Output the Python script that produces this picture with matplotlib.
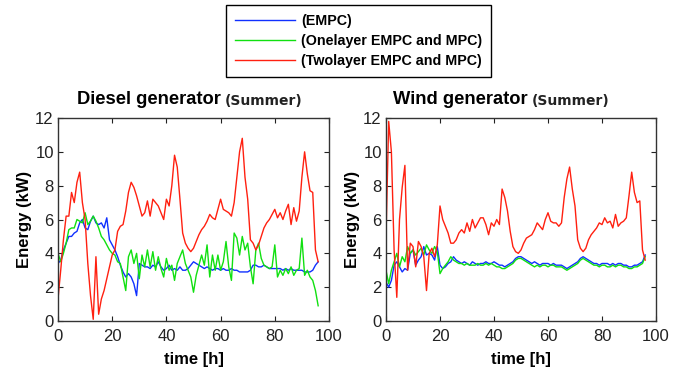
import matplotlib
matplotlib.use("Agg")
import matplotlib.pyplot as plt
import numpy as np

# hourly samples, 0..96 h
hours = list(range(97))

diesel_empc = [3.4, 3.6, 4.2, 4.6, 5.0, 5.0, 5.2, 5.3, 5.8, 6.0, 5.5, 5.4, 5.9, 6.2, 5.8, 5.7,
               5.8, 5.5, 6.1, 4.8, 4.5, 4.2, 3.8, 3.3, 2.9, 2.6, 2.8, 2.6, 2.2, 1.5, 3.4, 3.3,
               3.2, 3.2, 3.1, 3.3, 3.2, 3.5, 3.2, 3.0, 3.1, 3.3, 3.0, 3.1, 3.0, 3.2, 3.0, 3.0,
               3.1, 3.3, 3.5, 3.4, 3.3, 3.2, 3.1, 3.2, 3.1, 3.0, 3.1, 3.1, 3.0, 3.1, 3.0, 3.0,
               3.1, 3.0, 3.0, 2.9, 2.9, 2.9, 2.9, 3.0, 3.3, 3.3, 3.2, 3.2, 3.3, 3.2, 3.1, 3.1,
               3.1, 3.1, 3.1, 3.0, 3.1, 3.0, 3.1, 3.0, 3.0, 3.0, 3.0, 2.9, 2.9, 2.9, 3.0, 3.3,
               3.5]
diesel_one = [4.0, 3.5, 4.0, 4.6, 5.4, 5.5, 5.5, 6.0, 5.9, 5.8, 6.4, 5.7, 5.9, 6.2, 5.9, 5.5,
              5.0, 4.8, 4.5, 4.2, 4.0, 3.9, 3.5, 3.4, 2.6, 1.8, 3.8, 4.2, 3.4, 4.0, 2.5, 3.9,
              3.2, 4.2, 3.2, 4.1, 3.0, 3.8, 3.1, 2.6, 3.7, 3.0, 3.3, 2.4, 3.4, 3.8, 4.2, 3.4,
              3.0, 2.6, 1.7, 2.7, 3.3, 3.9, 3.3, 4.5, 2.6, 3.9, 3.0, 3.9, 3.0, 3.5, 4.7, 3.2,
              2.4, 5.2, 4.9, 3.9, 5.0, 4.2, 4.6, 3.2, 2.2, 4.2, 4.6, 3.7, 3.3, 3.2, 3.1, 3.2,
              4.5, 2.6, 3.0, 2.7, 3.1, 2.8, 3.2, 2.7, 3.0, 3.1, 4.9, 2.7, 3.0, 2.6, 2.4, 1.8,
              0.9]
diesel_two = [1.3, 3.0, 4.8, 6.2, 6.2, 7.6, 7.0, 8.2, 8.8, 7.0, 6.0, 3.4, 1.5, 0.1, 3.8, 0.4,
              1.3, 1.8, 2.5, 3.2, 3.9, 4.2, 5.3, 5.6, 5.7, 6.5, 7.6, 8.2, 7.9, 7.4, 6.8, 6.2,
              6.4, 7.1, 6.2, 7.2, 7.0, 6.8, 6.4, 6.0, 7.2, 6.8, 8.0, 9.8, 9.1, 7.2, 5.2, 4.6,
              4.3, 4.1, 4.3, 4.7, 5.1, 5.4, 5.6, 5.9, 6.3, 6.1, 6.0, 6.6, 7.2, 6.6, 6.5, 6.4,
              6.2, 7.0, 8.5, 10.0, 10.8, 8.5, 7.2, 4.8, 4.6, 4.2, 4.5, 5.0, 5.5, 5.8, 6.0, 6.3,
              6.6, 6.1, 6.4, 6.0, 6.5, 6.9, 5.7, 6.7, 5.9, 6.5, 8.5, 10.0, 8.7, 7.7, 7.6, 4.2,
              3.5]

wind_empc = [2.3, 2.0, 2.4, 3.3, 3.5, 3.2, 2.9, 3.1, 3.0, 4.0, 4.2, 3.3, 3.6, 3.8, 4.4, 3.9,
             4.0, 3.9, 3.6, 4.4, 3.3, 3.1, 3.2, 3.4, 3.5, 3.8, 3.6, 3.5, 3.4, 3.5, 3.4, 3.3,
             3.5, 3.4, 3.3, 3.4, 3.4, 3.5, 3.4, 3.4, 3.5, 3.4, 3.3, 3.3, 3.2, 3.3, 3.4, 3.5,
             3.7, 3.8, 3.8, 3.7, 3.6, 3.5, 3.4, 3.5, 3.4, 3.3, 3.4, 3.4, 3.4, 3.3, 3.4, 3.3,
             3.3, 3.3, 3.2, 3.1, 3.2, 3.3, 3.4, 3.5, 3.7, 3.8, 3.7, 3.6, 3.5, 3.4, 3.4, 3.3,
             3.4, 3.4, 3.4, 3.3, 3.4, 3.3, 3.4, 3.4, 3.3, 3.3, 3.2, 3.2, 3.3, 3.3, 3.4, 3.5,
             3.9]
wind_one = [3.0, 2.2, 3.0, 3.5, 4.0, 3.2, 3.8, 3.5, 4.4, 4.0, 4.2, 3.9, 4.1, 4.3, 3.9, 4.5,
            4.2, 4.0, 4.4, 4.1, 2.8, 3.1, 3.3, 3.5, 3.8, 3.6, 3.5, 3.4, 3.4, 3.3, 3.4, 3.3,
            3.3, 3.3, 3.4, 3.3, 3.3, 3.4, 3.3, 3.4, 3.3, 3.2, 3.2, 3.1, 3.1, 3.2, 3.3, 3.4,
            3.6, 3.7, 3.7, 3.6, 3.5, 3.4, 3.3, 3.2, 3.3, 3.2, 3.3, 3.3, 3.2, 3.3, 3.3, 3.2,
            3.2, 3.2, 3.1, 3.0, 3.1, 3.2, 3.3, 3.4, 3.6, 3.7, 3.6, 3.5, 3.4, 3.3, 3.3, 3.2,
            3.3, 3.3, 3.2, 3.2, 3.3, 3.2, 3.3, 3.3, 3.2, 3.2, 3.1, 3.1, 3.2, 3.2, 3.3, 3.4,
            3.8]
wind_two = [5.0, 11.8, 10.0, 4.2, 1.4, 6.0, 7.9, 9.2, 3.0, 4.6, 4.4, 3.2, 4.7, 4.4, 3.8, 1.8,
            4.0, 4.3, 3.8, 4.5, 6.8, 6.0, 5.6, 5.2, 4.6, 4.6, 4.8, 5.2, 5.4, 5.2, 5.8, 5.3,
            6.0, 5.5, 5.8, 6.1, 6.1, 5.7, 5.1, 5.8, 5.6, 6.0, 5.7, 7.8, 7.3, 6.5, 5.3, 4.4,
            4.1, 4.0, 4.2, 4.6, 4.9, 5.0, 5.1, 5.4, 5.8, 5.6, 5.4, 6.0, 6.4, 5.9, 5.8, 5.8,
            5.6, 5.8, 7.3, 8.4, 9.1, 7.8, 6.8, 4.8, 4.3, 4.1, 4.3, 4.8, 5.1, 5.3, 5.5, 5.8,
            5.7, 6.1, 5.8, 5.9, 5.5, 6.3, 5.6, 5.8, 5.9, 6.1, 7.4, 8.8, 7.6, 7.0, 7.1, 4.2,
            3.6]

labels = ["(EMPC)", "(Onelayer EMPC and MPC)", "(Twolayer EMPC and MPC)"]
colors = ["#1030ff", "#10e010", "#ff2010"]

W, H = 683, 373
fig = plt.figure(figsize=(W / 100, H / 100), dpi=100)
plt.rcParams['font.family'] = ['Liberation Sans', 'DejaVu Sans']

def px(x0, y0, x1, y1):
    return [x0 / W, 1 - y1 / H, (x1 - x0) / W, (y1 - y0) / H]

ax1 = fig.add_axes(px(58, 118, 329, 321))
ax2 = fig.add_axes(px(386, 118, 656, 321))

panels = [(ax1, [diesel_empc, diesel_one, diesel_two]),
          (ax2, [wind_empc, wind_one, wind_two])]

for ax, series in panels:
    for vals, c, lab in zip(series, colors, labels):
        ax.plot(hours, vals, color=c, lw=1.0, label=lab)
    ax.set_xlim(0, 100)
    ax.set_ylim(0, 12)
    ax.set_xticks(np.arange(0, 101, 20))
    ax.set_yticks(np.arange(0, 13, 2))
    ax.tick_params(direction='in', top=True, right=True, length=3.5, width=0.8,
                   labelsize=12, colors='#222222', pad=3)
    ax.tick_params(axis='x', pad=6)
    for sp in ax.spines.values():
        sp.set_color('#333333')
        sp.set_linewidth(1.0)
    ax.set_xlabel("time [h]", fontsize=12, fontweight='bold')
    ax.set_ylabel("Energy (kW)", fontsize=12, fontweight='bold')
    ax.xaxis.set_label_coords(0.5, -0.153)
    ax.yaxis.set_label_coords(-0.096, 0.5)

# titles: bold name, then a lighter "(Summer)" just after it
for x0, name in [(77, "Diesel generator"), (393, "Wind generator")]:
    t = fig.text(x0 / W, 1 - 104 / H, name, fontsize=13.2, fontweight='bold',
                 va='baseline', ha='left')
    fig.add_artist(plt.Annotation("(Summer)", xy=(1, 0), xycoords=t,
                                  xytext=(3, 0), textcoords='offset points',
                                  fontsize=10, fontweight='bold', family='DejaVu Sans',
                                  color='#222222', va='bottom', ha='left'))

h, l = ax1.get_legend_handles_labels()
leg = fig.legend(h, l, loc='upper left', bbox_to_anchor=(226 / W, 1 - 5 / H),
                 borderaxespad=0, fancybox=False, framealpha=1, edgecolor='black',
                 prop={'size': 10.3, 'weight': 'bold'}, handlelength=4.2,
                 handletextpad=0.45, labelspacing=0.45, borderpad=0.6)
leg.get_frame().set_linewidth(1.0)

fig.savefig("out.png", dpi=100)
